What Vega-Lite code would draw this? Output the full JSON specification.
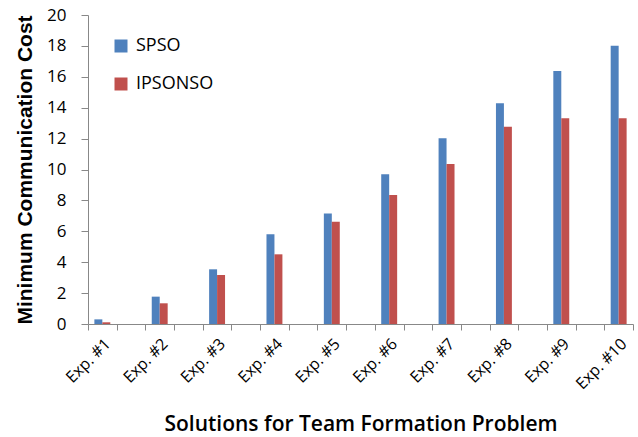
{
  "$schema": "https://vega.github.io/schema/vega-lite/v6.json",
  "autosize": "none",
  "width": 545,
  "height": 309,
  "padding": {"left": 88, "top": 15, "right": 5, "bottom": 113},
  "background": "white",
  "config": {"view": {"stroke": null}, "font": "Open Sans"},
  "data": {"values": [
    {"exp": "Exp. #1", "method": "SPSO", "cost": 0.30},
    {"exp": "Exp. #1", "method": "IPSONSO", "cost": 0.11},
    {"exp": "Exp. #2", "method": "SPSO", "cost": 1.77},
    {"exp": "Exp. #2", "method": "IPSONSO", "cost": 1.34},
    {"exp": "Exp. #3", "method": "SPSO", "cost": 3.54},
    {"exp": "Exp. #3", "method": "IPSONSO", "cost": 3.17},
    {"exp": "Exp. #4", "method": "SPSO", "cost": 5.81},
    {"exp": "Exp. #4", "method": "IPSONSO", "cost": 4.51},
    {"exp": "Exp. #5", "method": "SPSO", "cost": 7.16},
    {"exp": "Exp. #5", "method": "IPSONSO", "cost": 6.62},
    {"exp": "Exp. #6", "method": "SPSO", "cost": 9.69},
    {"exp": "Exp. #6", "method": "IPSONSO", "cost": 8.35},
    {"exp": "Exp. #7", "method": "SPSO", "cost": 12.02},
    {"exp": "Exp. #7", "method": "IPSONSO", "cost": 10.36},
    {"exp": "Exp. #8", "method": "SPSO", "cost": 14.28},
    {"exp": "Exp. #8", "method": "IPSONSO", "cost": 12.77},
    {"exp": "Exp. #9", "method": "SPSO", "cost": 16.37},
    {"exp": "Exp. #9", "method": "IPSONSO", "cost": 13.31},
    {"exp": "Exp. #10", "method": "SPSO", "cost": 18.01},
    {"exp": "Exp. #10", "method": "IPSONSO", "cost": 13.31}
  ]},
  "mark": {"type": "bar"},
  "encoding": {
    "x": {
      "field": "exp",
      "type": "nominal",
      "scale": {
        "domain": ["Exp. #1", "g1", "Exp. #2", "g2", "Exp. #3", "g3", "Exp. #4", "g4", "Exp. #5", "g5", "Exp. #6", "g6", "Exp. #7", "g7", "Exp. #8", "g8", "Exp. #9", "g9", "Exp. #10"],
        "paddingInner": 0,
        "paddingOuter": 0
      },
      "axis": {
        "title": "Solutions for Team Formation Problem",
        "titleFont": "Open Sans",
        "titleFontSize": 21,
        "titleFontWeight": 600,
        "titleColor": "#000000",
        "titlePadding": 22,
        "labelExpr": "substring(datum.label + '', 0, 3) == 'Exp' ? datum.label : ''",
        "labelAngle": -45,
        "labelAlign": "right",
        "labelBaseline": "middle",
        "labelFont": "Open Sans",
        "labelFontSize": 16,
        "labelColor": "#000000",
        "labelPadding": 11,
        "labelOffset": 5,
        "tickBand": "extent",
        "tickSize": 6,
        "tickColor": "#888888",
        "domainColor": "#888888",
        "grid": false
      }
    },
    "xOffset": {
      "field": "method",
      "type": "nominal",
      "sort": ["SPSO", "IPSONSO"],
      "scale": {"paddingInner": 0, "paddingOuter": 0.8}
    },
    "y": {
      "field": "cost",
      "type": "quantitative",
      "scale": {"domain": [0, 20], "nice": false},
      "axis": {
        "title": "Minimum Communication Cost",
        "titleFont": "Liberation Sans",
        "titleFontSize": 21,
        "titleFontWeight": "bold",
        "titleColor": "#000000",
        "titlePadding": 11,
        "values": [0, 2, 4, 6, 8, 10, 12, 14, 16, 18, 20],
        "labelFont": "Open Sans",
        "labelFontSize": 17,
        "labelColor": "#000000",
        "labelPadding": 15,
        "tickSize": 7,
        "tickColor": "#888888",
        "domainColor": "#888888",
        "grid": false
      }
    },
    "color": {
      "field": "method",
      "type": "nominal",
      "sort": ["SPSO", "IPSONSO"],
      "scale": {"domain": ["SPSO", "IPSONSO"], "range": ["#4F81BD", "#C0504D"]},
      "legend": {
        "title": null,
        "orient": "none",
        "legendX": 24,
        "legendY": 22,
        "symbolType": "square",
        "symbolSize": 169,
        "symbolStrokeWidth": 0,
        "labelFont": "Open Sans",
        "labelFontSize": 18,
        "labelColor": "#000000",
        "labelOffset": 6,
        "rowPadding": 20
      }
    }
  }
}
